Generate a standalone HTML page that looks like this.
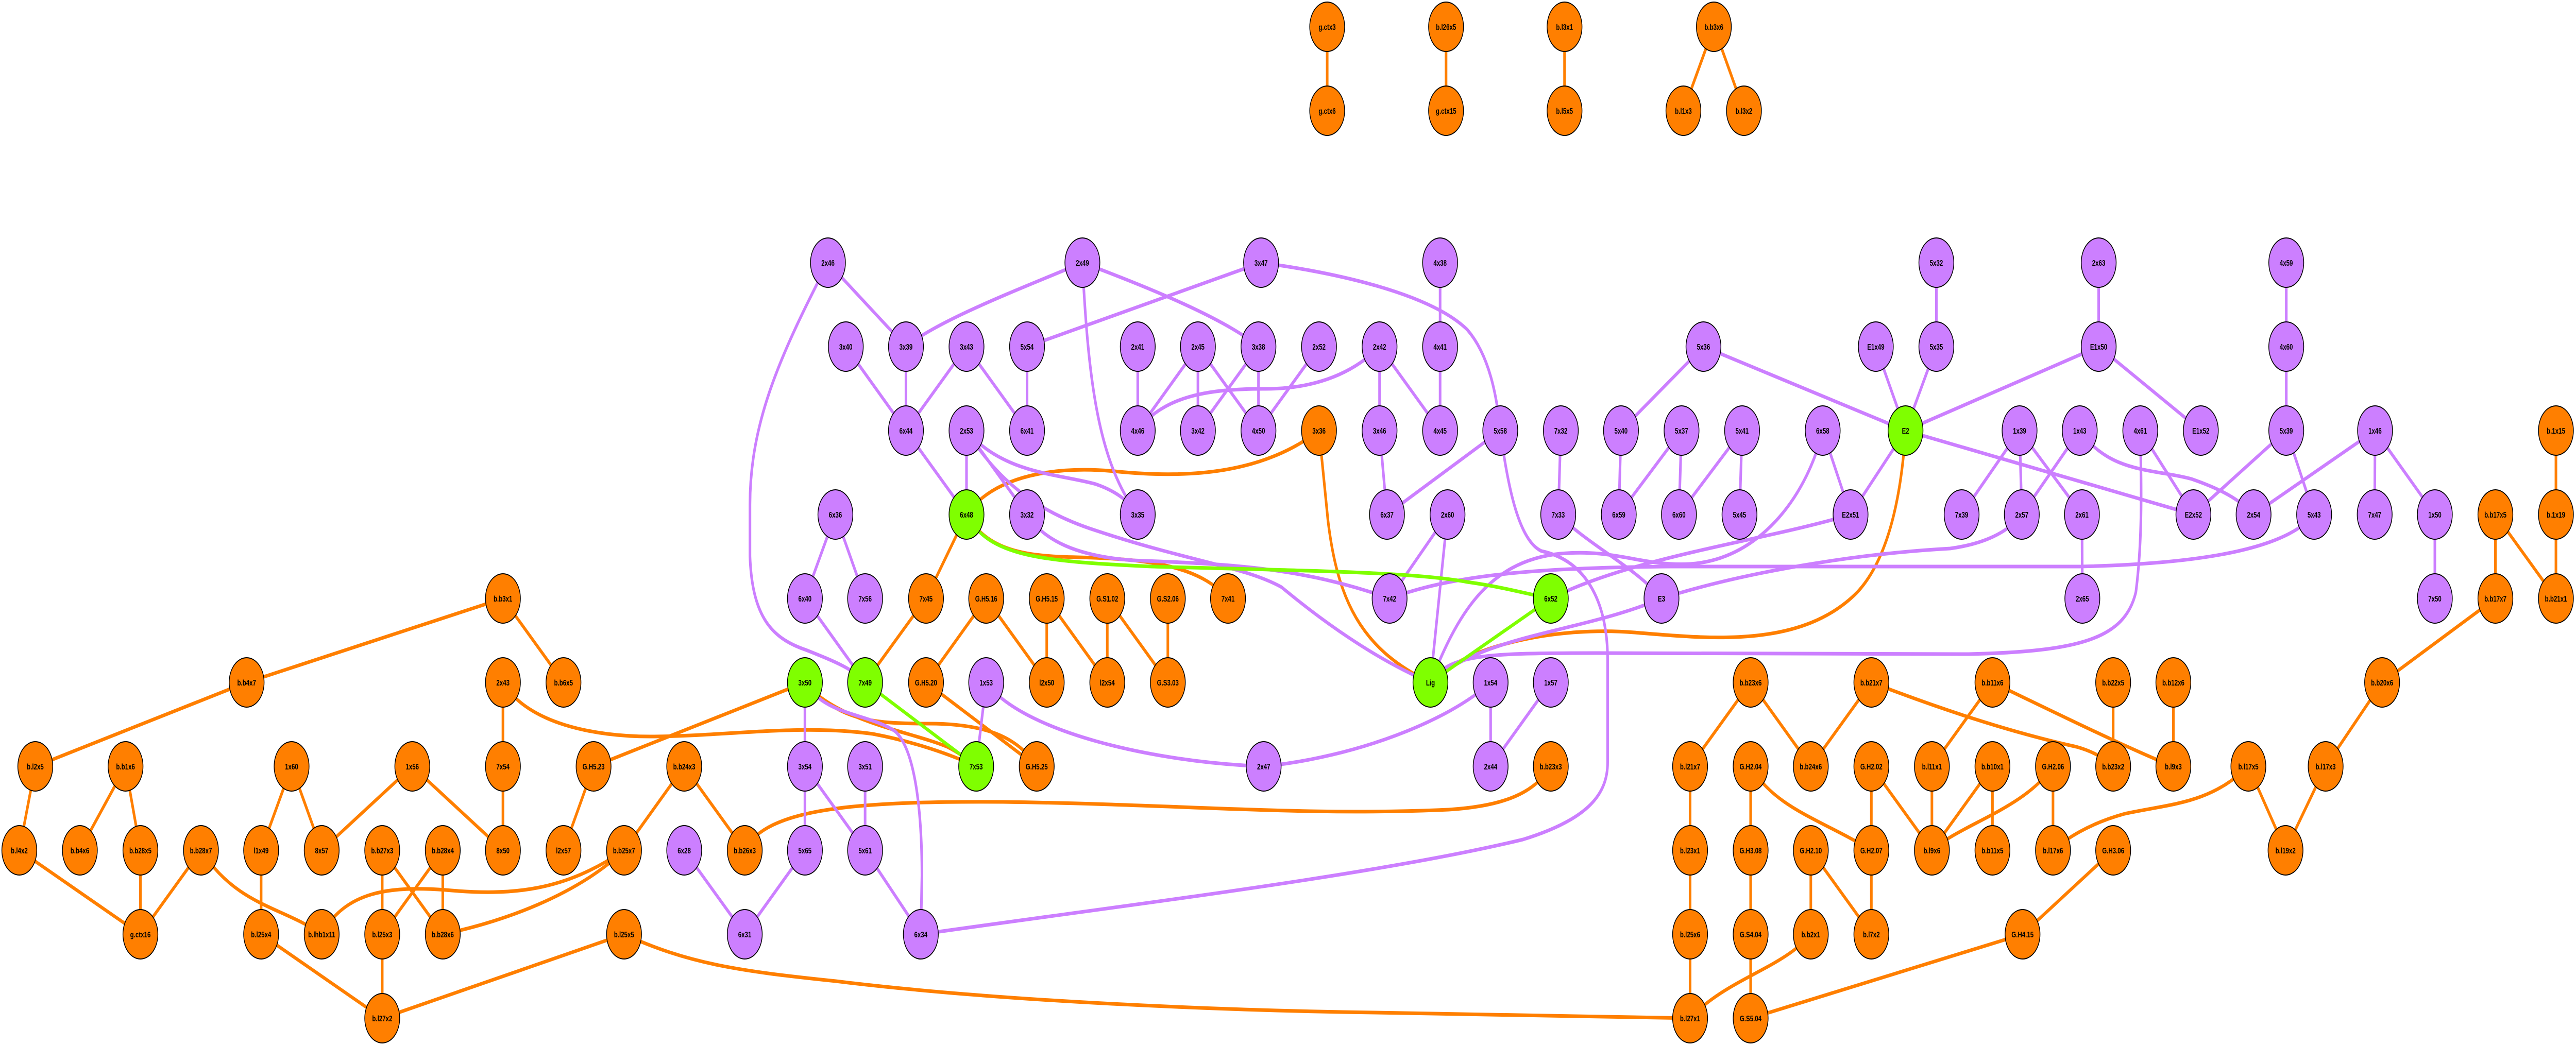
<!DOCTYPE html>
<html><head><meta charset="utf-8"><style>
html,body{margin:0;padding:0;background:#fff;overflow:hidden;width:100%;height:100%;}
svg{display:block;width:100vw;height:100vh;}
.o{fill:#ff7f00;stroke:#000;stroke-width:2}
.p{fill:#cc7fff;stroke:#000;stroke-width:2}
.g{fill:#7fff00;stroke:#000;stroke-width:2}
text{font-family:"Liberation Sans",sans-serif;font-weight:bold;font-size:16px;text-anchor:middle;fill:#000}
.eo{stroke:#ff7f00;stroke-width:7;fill:none}
.ep{stroke:#cc7fff;stroke-width:7;fill:none}
.eg{stroke:#7fff00;stroke-width:7;fill:none}
</style></head><body>
<svg viewBox="0 0 6935 2029" preserveAspectRatio="none" xmlns="http://www.w3.org/2000/svg">
<rect width="6935" height="2029" fill="#fff"/>
<g class="eo">
<line x1="3573" y1="52" x2="3573" y2="215"/>
<line x1="3893" y1="52" x2="3893" y2="215"/>
<line x1="4212" y1="52" x2="4212" y2="215"/>
<line x1="4614" y1="52" x2="4532" y2="215"/>
<line x1="4614" y1="52" x2="4695" y2="215"/>
<line x1="1354" y1="1162" x2="664" y2="1325"/>
<line x1="1354" y1="1162" x2="1517" y2="1325"/>
<line x1="664" y1="1325" x2="95" y2="1488"/>
<line x1="95" y1="1488" x2="52" y2="1651"/>
<line x1="338" y1="1488" x2="215" y2="1651"/>
<line x1="338" y1="1488" x2="378" y2="1651"/>
<line x1="378" y1="1651" x2="378" y2="1814"/>
<line x1="52" y1="1651" x2="378" y2="1814"/>
<line x1="541" y1="1651" x2="378" y2="1814"/>
<line x1="785" y1="1488" x2="703" y2="1651"/>
<line x1="785" y1="1488" x2="866" y2="1651"/>
<line x1="1110" y1="1488" x2="866" y2="1651"/>
<line x1="1110" y1="1488" x2="1354" y2="1651"/>
<line x1="1354" y1="1488" x2="1354" y2="1651"/>
<line x1="1354" y1="1325" x2="1354" y2="1488"/>
<line x1="1598" y1="1488" x2="2167" y2="1325"/>
<line x1="1598" y1="1488" x2="1517" y2="1651"/>
<line x1="1842" y1="1488" x2="1680" y2="1651"/>
<path d="M1680,1651 C1550,1740 1350,1790 1192,1814"/>
<line x1="1029" y1="1651" x2="1029" y2="1814"/>
<line x1="1029" y1="1651" x2="1192" y2="1814"/>
<line x1="1192" y1="1651" x2="1029" y2="1814"/>
<line x1="1192" y1="1651" x2="1192" y2="1814"/>
<line x1="703" y1="1651" x2="703" y2="1814"/>
<line x1="703" y1="1814" x2="1029" y2="1977"/>
<line x1="1029" y1="1814" x2="1029" y2="1977"/>
<line x1="1029" y1="1977" x2="1680" y2="1814"/>
<line x1="2602" y1="999" x2="2493" y2="1162"/>
<line x1="2493" y1="1162" x2="2329" y2="1325"/>
<line x1="2655" y1="1162" x2="2493" y2="1325"/>
<line x1="2655" y1="1162" x2="2818" y2="1325"/>
<line x1="2818" y1="1162" x2="2818" y2="1325"/>
<line x1="2818" y1="1162" x2="2981" y2="1325"/>
<line x1="2981" y1="1162" x2="2981" y2="1325"/>
<line x1="2981" y1="1162" x2="3144" y2="1325"/>
<line x1="3144" y1="1162" x2="3144" y2="1325"/>
<line x1="2493" y1="1325" x2="2791" y2="1488"/>
<line x1="1842" y1="1488" x2="2005" y2="1651"/>
<line x1="4713" y1="1325" x2="4550" y2="1488"/>
<line x1="4713" y1="1325" x2="4875" y2="1488"/>
<line x1="5038" y1="1325" x2="4875" y2="1488"/>
<line x1="4550" y1="1488" x2="4550" y2="1651"/>
<line x1="4550" y1="1651" x2="4550" y2="1814"/>
<line x1="4550" y1="1814" x2="4550" y2="1977"/>
<line x1="4713" y1="1488" x2="4713" y2="1651"/>
<line x1="4713" y1="1651" x2="4713" y2="1814"/>
<line x1="4713" y1="1814" x2="4713" y2="1977"/>
<line x1="5038" y1="1488" x2="5038" y2="1651"/>
<line x1="5038" y1="1488" x2="5201" y2="1651"/>
<line x1="5201" y1="1488" x2="5201" y2="1651"/>
<line x1="4875" y1="1651" x2="4875" y2="1814"/>
<line x1="4875" y1="1651" x2="5038" y2="1814"/>
<line x1="5038" y1="1651" x2="5038" y2="1814"/>
<path d="M4875,1814 C4800,1880 4650,1900 4550,1977"/>
<line x1="4713" y1="1977" x2="5445" y2="1814"/>
<line x1="5689" y1="1651" x2="5445" y2="1814"/>
<line x1="5364" y1="1325" x2="5201" y2="1488"/>
<line x1="5851" y1="1325" x2="5851" y2="1488"/>
<line x1="5689" y1="1325" x2="5689" y2="1488"/>
<line x1="5364" y1="1488" x2="5201" y2="1651"/>
<line x1="5364" y1="1488" x2="5364" y2="1651"/>
<line x1="5527" y1="1488" x2="5527" y2="1651"/>
<line x1="6053" y1="1488" x2="6153" y2="1651"/>
<line x1="6261" y1="1488" x2="6153" y2="1651"/>
<line x1="6413" y1="1325" x2="6261" y2="1488"/>
<line x1="6718" y1="1162" x2="6413" y2="1325"/>
<line x1="6718" y1="999" x2="6718" y2="1162"/>
<line x1="6718" y1="999" x2="6881" y2="1162"/>
<line x1="6881" y1="999" x2="6881" y2="1162"/>
<line x1="6881" y1="836" x2="6881" y2="999"/>
<path d="M541,1651 C640,1760 760,1760 866,1814"/>
<path d="M866,1814 C930,1730 1050,1720 1200,1728 C1380,1740 1520,1730 1680,1651"/>
<path d="M1354,1325 C1420,1405 1600,1430 1750,1430 C1950,1430 2150,1405 2350,1425 C2460,1440 2560,1465 2628,1488"/>
<path d="M1680,1814 C1850,1870 1980,1885 2250,1905 C2700,1945 3300,1962 3700,1966 L4550,1977"/>
<path d="M2602,999 C2660,1070 2760,1080 2900,1082 C3100,1085 3230,1100 3306,1162"/>
<path d="M2602,999 C2680,920 2850,905 3000,915 C3200,930 3400,920 3551,836"/>
<path d="M2167,1325 C2250,1400 2450,1420 2550,1450 C2590,1465 2610,1478 2628,1488"/>
<path d="M2167,1325 C2260,1400 2350,1405 2500,1405 C2650,1405 2740,1430 2791,1488"/>
<path d="M2005,1651 C2060,1570 2300,1555 2700,1557 C3200,1562 3500,1585 3900,1572 C4050,1565 4130,1540 4175,1488"/>
<path d="M3551,836 L3575,1010 C3600,1160 3660,1260 3851,1325"/>
<path d="M5130,836 C5120,950 5090,1080 5000,1150 C4850,1260 4600,1240 4400,1228 C4200,1216 3950,1250 3851,1325"/>
<path d="M5038,1325 C5200,1370 5400,1420 5590,1450 C5640,1460 5670,1475 5689,1488"/>
<path d="M4713,1488 C4780,1570 4900,1590 5038,1651"/>
<path d="M5364,1325 C5550,1390 5750,1460 5851,1488"/>
<path d="M5527,1488 C5450,1570 5280,1600 5201,1651"/>
<path d="M6053,1488 C5950,1560 5850,1560 5720,1580 C5620,1600 5560,1630 5527,1651"/>
</g>
<g class="ep">
<line x1="2229" y1="510" x2="2439" y2="673"/>
<line x1="3395" y1="510" x2="2765" y2="673"/>
<line x1="2277" y1="673" x2="2439" y2="836"/>
<line x1="2439" y1="673" x2="2439" y2="836"/>
<line x1="2602" y1="673" x2="2439" y2="836"/>
<line x1="2602" y1="673" x2="2765" y2="836"/>
<line x1="2765" y1="673" x2="2765" y2="836"/>
<line x1="3063" y1="673" x2="3063" y2="836"/>
<line x1="3225" y1="673" x2="3063" y2="836"/>
<line x1="3225" y1="673" x2="3225" y2="836"/>
<line x1="3225" y1="673" x2="3388" y2="836"/>
<line x1="3388" y1="673" x2="3225" y2="836"/>
<line x1="3388" y1="673" x2="3388" y2="836"/>
<line x1="3551" y1="673" x2="3388" y2="836"/>
<line x1="2439" y1="836" x2="2602" y2="999"/>
<line x1="2602" y1="836" x2="2602" y2="999"/>
<line x1="2602" y1="836" x2="2765" y2="999"/>
<line x1="2249" y1="999" x2="2167" y2="1162"/>
<line x1="2249" y1="999" x2="2329" y2="1162"/>
<line x1="2167" y1="1162" x2="2329" y2="1325"/>
<line x1="2167" y1="1325" x2="2167" y2="1488"/>
<line x1="2655" y1="1325" x2="2628" y2="1488"/>
<line x1="2167" y1="1488" x2="2167" y2="1651"/>
<line x1="2167" y1="1488" x2="2329" y2="1651"/>
<line x1="2329" y1="1488" x2="2329" y2="1651"/>
<line x1="2329" y1="1651" x2="2479" y2="1814"/>
<line x1="1842" y1="1651" x2="2005" y2="1814"/>
<line x1="2167" y1="1651" x2="2005" y2="1814"/>
<line x1="3877" y1="510" x2="3877" y2="673"/>
<line x1="3877" y1="673" x2="3877" y2="836"/>
<line x1="3714" y1="673" x2="3714" y2="836"/>
<line x1="3714" y1="673" x2="3877" y2="836"/>
<line x1="3714" y1="836" x2="3734" y2="999"/>
<line x1="4039" y1="836" x2="3734" y2="999"/>
<line x1="4202" y1="836" x2="4195" y2="999"/>
<line x1="4364" y1="836" x2="4358" y2="999"/>
<line x1="4527" y1="836" x2="4358" y2="999"/>
<line x1="4527" y1="836" x2="4520" y2="999"/>
<line x1="4690" y1="836" x2="4520" y2="999"/>
<line x1="4690" y1="836" x2="4683" y2="999"/>
<line x1="4586" y1="673" x2="4364" y2="836"/>
<line x1="4586" y1="673" x2="5130" y2="836"/>
<line x1="5050" y1="673" x2="5130" y2="836"/>
<line x1="5213" y1="673" x2="5130" y2="836"/>
<line x1="5213" y1="510" x2="5213" y2="673"/>
<line x1="4907" y1="836" x2="4982" y2="999"/>
<line x1="5130" y1="836" x2="4982" y2="999"/>
<line x1="3897" y1="999" x2="3741" y2="1162"/>
<line x1="3897" y1="999" x2="3851" y2="1325"/>
<path d="M4195,999 C4280,1060 4400,1100 4473,1162"/>
<line x1="4013" y1="1325" x2="4013" y2="1488"/>
<line x1="4175" y1="1325" x2="4013" y2="1488"/>
<line x1="5650" y1="510" x2="5650" y2="673"/>
<line x1="5650" y1="673" x2="5130" y2="836"/>
<line x1="5650" y1="673" x2="5925" y2="836"/>
<line x1="6155" y1="510" x2="6155" y2="673"/>
<line x1="6155" y1="673" x2="6155" y2="836"/>
<line x1="5130" y1="836" x2="5905" y2="999"/>
<line x1="5437" y1="836" x2="5281" y2="999"/>
<line x1="5437" y1="836" x2="5443" y2="999"/>
<line x1="5437" y1="836" x2="5605" y2="999"/>
<line x1="5599" y1="836" x2="5443" y2="999"/>
<line x1="5762" y1="836" x2="5905" y2="999"/>
<line x1="6155" y1="836" x2="5905" y2="999"/>
<line x1="6155" y1="836" x2="6230" y2="999"/>
<line x1="6394" y1="836" x2="6067" y2="999"/>
<line x1="6394" y1="836" x2="6393" y2="999"/>
<line x1="6394" y1="836" x2="6555" y2="999"/>
<line x1="5605" y1="999" x2="5606" y2="1162"/>
<line x1="6555" y1="999" x2="6555" y2="1162"/>
<path d="M2229,510 C2100,690 2019,820 2019,980 L2019,1080 C2025,1200 2080,1240 2170,1262 C2250,1285 2300,1300 2329,1325"/>
<path d="M2914,510 C2750,560 2530,620 2439,673"/>
<path d="M2914,510 C3100,560 3300,620 3388,673"/>
<path d="M2914,510 C2930,750 2960,900 3063,999"/>
<path d="M3395,510 C3600,530 3850,570 3950,640 C4010,690 4030,770 4039,836"/>
<path d="M3063,836 C3130,770 3250,755 3400,755 C3550,756 3650,720 3714,673"/>
<path d="M2602,836 C2700,920 2850,920 2950,940 C3010,955 3040,975 3063,999"/>
<path d="M2602,836 C2700,950 2820,1000 2950,1030 C3200,1090 3350,1100 3450,1140 C3550,1200 3700,1280 3851,1325"/>
<path d="M2765,999 C2810,1050 2900,1080 3050,1088 C3300,1095 3500,1100 3741,1162"/>
<path d="M2167,1325 C2220,1390 2340,1385 2410,1420 C2470,1460 2482,1600 2482,1700 L2479,1814"/>
<path d="M2655,1325 C2750,1420 3100,1480 3402,1488"/>
<path d="M3402,1488 C3650,1470 3900,1400 4013,1325"/>
<path d="M2479,1814 C3000,1760 3700,1700 4100,1630 C4280,1590 4328,1540 4328,1480 L4328,1280 C4328,1180 4280,1090 4150,1070 C4090,1050 4060,950 4039,836"/>
<path d="M3851,1325 C3920,1200 4000,1090 4200,1075 C4350,1065 4420,1100 4550,1095 C4750,1085 4870,950 4907,836"/>
<path d="M4473,1162 C4250,1230 4000,1230 3851,1325"/>
<path d="M4175,1162 C4400,1080 4750,1050 4982,999"/>
<path d="M3741,1162 C3900,1120 4100,1102 4500,1100 L5600,1100 C5900,1095 6150,1070 6230,999"/>
<path d="M4473,1162 C4700,1110 5000,1075 5250,1065 C5350,1055 5410,1030 5443,999"/>
<path d="M3851,1325 C3900,1270 4000,1268 4300,1268 L5300,1270 C5600,1265 5720,1240 5750,1150 C5768,1050 5765,950 5762,836"/>
<path d="M5599,836 C5680,920 5800,910 5900,930 C5980,950 6030,970 6067,999"/>
</g>
<g class="eg">
<line x1="2329" y1="1325" x2="2628" y2="1488"/>
<line x1="4175" y1="1162" x2="3851" y2="1325"/>
<path d="M2602,999 C2660,1080 2800,1090 3100,1100 C3500,1108 3800,1110 3950,1130 C4050,1140 4120,1155 4175,1162"/>
</g>
<g>
<ellipse class="o" cx="3573" cy="52" rx="47" ry="48"/><text x="3573" y="58">g.ctx3</text>
<ellipse class="o" cx="3573" cy="215" rx="47" ry="48"/><text x="3573" y="221">g.ctx6</text>
<ellipse class="o" cx="3893" cy="52" rx="47" ry="48"/><text x="3893" y="58">b.l26x5</text>
<ellipse class="o" cx="3893" cy="215" rx="47" ry="48"/><text x="3893" y="221">g.ctx15</text>
<ellipse class="o" cx="4212" cy="52" rx="47" ry="48"/><text x="4212" y="58">b.l3x1</text>
<ellipse class="o" cx="4212" cy="215" rx="47" ry="48"/><text x="4212" y="221">b.l5x5</text>
<ellipse class="o" cx="4614" cy="52" rx="47" ry="48"/><text x="4614" y="58">b.b3x6</text>
<ellipse class="o" cx="4532" cy="215" rx="47" ry="48"/><text x="4532" y="221">b.l1x3</text>
<ellipse class="o" cx="4695" cy="215" rx="47" ry="48"/><text x="4695" y="221">b.l3x2</text>

<ellipse class="p" cx="2229" cy="510" rx="47" ry="48"/><text x="2229" y="516">2x46</text>
<ellipse class="p" cx="2914" cy="510" rx="47" ry="48"/><text x="2914" y="516">2x49</text>
<ellipse class="p" cx="3395" cy="510" rx="47" ry="48"/><text x="3395" y="516">3x47</text>
<ellipse class="p" cx="3877" cy="510" rx="47" ry="48"/><text x="3877" y="516">4x38</text>
<ellipse class="p" cx="5213" cy="510" rx="47" ry="48"/><text x="5213" y="516">5x32</text>
<ellipse class="p" cx="5650" cy="510" rx="47" ry="48"/><text x="5650" y="516">2x63</text>
<ellipse class="p" cx="6155" cy="510" rx="47" ry="48"/><text x="6155" y="516">4x59</text>

<ellipse class="p" cx="2277" cy="673" rx="47" ry="48"/><text x="2277" y="679">3x40</text>
<ellipse class="p" cx="2439" cy="673" rx="47" ry="48"/><text x="2439" y="679">3x39</text>
<ellipse class="p" cx="2602" cy="673" rx="47" ry="48"/><text x="2602" y="679">3x43</text>
<ellipse class="p" cx="2765" cy="673" rx="47" ry="48"/><text x="2765" y="679">5x54</text>
<ellipse class="p" cx="3063" cy="673" rx="47" ry="48"/><text x="3063" y="679">2x41</text>
<ellipse class="p" cx="3225" cy="673" rx="47" ry="48"/><text x="3225" y="679">2x45</text>
<ellipse class="p" cx="3388" cy="673" rx="47" ry="48"/><text x="3388" y="679">3x38</text>
<ellipse class="p" cx="3551" cy="673" rx="47" ry="48"/><text x="3551" y="679">2x52</text>
<ellipse class="p" cx="3714" cy="673" rx="47" ry="48"/><text x="3714" y="679">2x42</text>
<ellipse class="p" cx="3877" cy="673" rx="47" ry="48"/><text x="3877" y="679">4x41</text>
<ellipse class="p" cx="4586" cy="673" rx="47" ry="48"/><text x="4586" y="679">5x36</text>
<ellipse class="p" cx="5050" cy="673" rx="47" ry="48"/><text x="5050" y="679">E1x49</text>
<ellipse class="p" cx="5213" cy="673" rx="47" ry="48"/><text x="5213" y="679">5x35</text>
<ellipse class="p" cx="5650" cy="673" rx="47" ry="48"/><text x="5650" y="679">E1x50</text>
<ellipse class="p" cx="6155" cy="673" rx="47" ry="48"/><text x="6155" y="679">4x60</text>

<ellipse class="p" cx="2439" cy="836" rx="47" ry="48"/><text x="2439" y="842">6x44</text>
<ellipse class="p" cx="2602" cy="836" rx="47" ry="48"/><text x="2602" y="842">2x53</text>
<ellipse class="p" cx="2765" cy="836" rx="47" ry="48"/><text x="2765" y="842">6x41</text>
<ellipse class="p" cx="3063" cy="836" rx="47" ry="48"/><text x="3063" y="842">4x46</text>
<ellipse class="p" cx="3225" cy="836" rx="47" ry="48"/><text x="3225" y="842">3x42</text>
<ellipse class="p" cx="3388" cy="836" rx="47" ry="48"/><text x="3388" y="842">4x50</text>
<ellipse class="o" cx="3551" cy="836" rx="47" ry="48"/><text x="3551" y="842">3x36</text>
<ellipse class="p" cx="3714" cy="836" rx="47" ry="48"/><text x="3714" y="842">3x46</text>
<ellipse class="p" cx="3877" cy="836" rx="47" ry="48"/><text x="3877" y="842">4x45</text>
<ellipse class="p" cx="4039" cy="836" rx="47" ry="48"/><text x="4039" y="842">5x58</text>
<ellipse class="p" cx="4202" cy="836" rx="47" ry="48"/><text x="4202" y="842">7x32</text>
<ellipse class="p" cx="4364" cy="836" rx="47" ry="48"/><text x="4364" y="842">5x40</text>
<ellipse class="p" cx="4527" cy="836" rx="47" ry="48"/><text x="4527" y="842">5x37</text>
<ellipse class="p" cx="4690" cy="836" rx="47" ry="48"/><text x="4690" y="842">5x41</text>
<ellipse class="p" cx="4907" cy="836" rx="47" ry="48"/><text x="4907" y="842">6x58</text>
<ellipse class="g" cx="5130" cy="836" rx="47" ry="48"/><text x="5130" y="842">E2</text>
<ellipse class="p" cx="5437" cy="836" rx="47" ry="48"/><text x="5437" y="842">1x39</text>
<ellipse class="p" cx="5599" cy="836" rx="47" ry="48"/><text x="5599" y="842">1x43</text>
<ellipse class="p" cx="5762" cy="836" rx="47" ry="48"/><text x="5762" y="842">4x61</text>
<ellipse class="p" cx="5925" cy="836" rx="47" ry="48"/><text x="5925" y="842">E1x52</text>
<ellipse class="p" cx="6155" cy="836" rx="47" ry="48"/><text x="6155" y="842">5x39</text>
<ellipse class="p" cx="6394" cy="836" rx="47" ry="48"/><text x="6394" y="842">1x46</text>
<ellipse class="o" cx="6881" cy="836" rx="47" ry="48"/><text x="6881" y="842">b.1x15</text>

<ellipse class="p" cx="2249" cy="999" rx="47" ry="48"/><text x="2249" y="1005">6x36</text>
<ellipse class="g" cx="2602" cy="999" rx="47" ry="48"/><text x="2602" y="1005">6x48</text>
<ellipse class="p" cx="2765" cy="999" rx="47" ry="48"/><text x="2765" y="1005">3x32</text>
<ellipse class="p" cx="3063" cy="999" rx="47" ry="48"/><text x="3063" y="1005">3x35</text>
<ellipse class="p" cx="3734" cy="999" rx="47" ry="48"/><text x="3734" y="1005">6x37</text>
<ellipse class="p" cx="3897" cy="999" rx="47" ry="48"/><text x="3897" y="1005">2x60</text>
<ellipse class="p" cx="4195" cy="999" rx="47" ry="48"/><text x="4195" y="1005">7x33</text>
<ellipse class="p" cx="4358" cy="999" rx="47" ry="48"/><text x="4358" y="1005">6x59</text>
<ellipse class="p" cx="4520" cy="999" rx="47" ry="48"/><text x="4520" y="1005">6x60</text>
<ellipse class="p" cx="4683" cy="999" rx="47" ry="48"/><text x="4683" y="1005">5x45</text>
<ellipse class="p" cx="4982" cy="999" rx="47" ry="48"/><text x="4982" y="1005">E2x51</text>
<ellipse class="p" cx="5281" cy="999" rx="47" ry="48"/><text x="5281" y="1005">7x39</text>
<ellipse class="p" cx="5443" cy="999" rx="47" ry="48"/><text x="5443" y="1005">2x57</text>
<ellipse class="p" cx="5605" cy="999" rx="47" ry="48"/><text x="5605" y="1005">2x61</text>
<ellipse class="p" cx="5905" cy="999" rx="47" ry="48"/><text x="5905" y="1005">E2x52</text>
<ellipse class="p" cx="6067" cy="999" rx="47" ry="48"/><text x="6067" y="1005">2x54</text>
<ellipse class="p" cx="6230" cy="999" rx="47" ry="48"/><text x="6230" y="1005">5x43</text>
<ellipse class="p" cx="6393" cy="999" rx="47" ry="48"/><text x="6393" y="1005">7x47</text>
<ellipse class="p" cx="6555" cy="999" rx="47" ry="48"/><text x="6555" y="1005">1x50</text>
<ellipse class="o" cx="6718" cy="999" rx="47" ry="48"/><text x="6718" y="1005">b.b17x5</text>
<ellipse class="o" cx="6881" cy="999" rx="47" ry="48"/><text x="6881" y="1005">b.1x19</text>

<ellipse class="o" cx="1354" cy="1162" rx="47" ry="48"/><text x="1354" y="1168">b.b3x1</text>
<ellipse class="p" cx="2167" cy="1162" rx="47" ry="48"/><text x="2167" y="1168">6x40</text>
<ellipse class="p" cx="2329" cy="1162" rx="47" ry="48"/><text x="2329" y="1168">7x56</text>
<ellipse class="o" cx="2493" cy="1162" rx="47" ry="48"/><text x="2493" y="1168">7x45</text>
<ellipse class="o" cx="2655" cy="1162" rx="47" ry="48"/><text x="2655" y="1168">G.H5.16</text>
<ellipse class="o" cx="2818" cy="1162" rx="47" ry="48"/><text x="2818" y="1168">G.H5.15</text>
<ellipse class="o" cx="2981" cy="1162" rx="47" ry="48"/><text x="2981" y="1168">G.S1.02</text>
<ellipse class="o" cx="3144" cy="1162" rx="47" ry="48"/><text x="3144" y="1168">G.S2.06</text>
<ellipse class="o" cx="3306" cy="1162" rx="47" ry="48"/><text x="3306" y="1168">7x41</text>
<ellipse class="p" cx="3741" cy="1162" rx="47" ry="48"/><text x="3741" y="1168">7x42</text>
<ellipse class="g" cx="4175" cy="1162" rx="47" ry="48"/><text x="4175" y="1168">6x52</text>
<ellipse class="p" cx="4473" cy="1162" rx="47" ry="48"/><text x="4473" y="1168">E3</text>
<ellipse class="p" cx="5606" cy="1162" rx="47" ry="48"/><text x="5606" y="1168">2x65</text>
<ellipse class="p" cx="6555" cy="1162" rx="47" ry="48"/><text x="6555" y="1168">7x50</text>
<ellipse class="o" cx="6718" cy="1162" rx="47" ry="48"/><text x="6718" y="1168">b.b17x7</text>
<ellipse class="o" cx="6881" cy="1162" rx="47" ry="48"/><text x="6881" y="1168">b.b21x1</text>

<ellipse class="o" cx="664" cy="1325" rx="47" ry="48"/><text x="664" y="1331">b.b4x7</text>
<ellipse class="o" cx="1354" cy="1325" rx="47" ry="48"/><text x="1354" y="1331">2x43</text>
<ellipse class="o" cx="1517" cy="1325" rx="47" ry="48"/><text x="1517" y="1331">b.b6x5</text>
<ellipse class="g" cx="2167" cy="1325" rx="47" ry="48"/><text x="2167" y="1331">3x50</text>
<ellipse class="g" cx="2329" cy="1325" rx="47" ry="48"/><text x="2329" y="1331">7x49</text>
<ellipse class="o" cx="2493" cy="1325" rx="47" ry="48"/><text x="2493" y="1331">G.H5.20</text>
<ellipse class="p" cx="2655" cy="1325" rx="47" ry="48"/><text x="2655" y="1331">1x53</text>
<ellipse class="o" cx="2818" cy="1325" rx="47" ry="48"/><text x="2818" y="1331">l2x50</text>
<ellipse class="o" cx="2981" cy="1325" rx="47" ry="48"/><text x="2981" y="1331">l2x54</text>
<ellipse class="o" cx="3144" cy="1325" rx="47" ry="48"/><text x="3144" y="1331">G.S3.03</text>
<ellipse class="g" cx="3851" cy="1325" rx="47" ry="48"/><text x="3851" y="1331">Lig</text>
<ellipse class="p" cx="4013" cy="1325" rx="47" ry="48"/><text x="4013" y="1331">1x54</text>
<ellipse class="p" cx="4175" cy="1325" rx="47" ry="48"/><text x="4175" y="1331">1x57</text>
<ellipse class="o" cx="4713" cy="1325" rx="47" ry="48"/><text x="4713" y="1331">b.b23x6</text>
<ellipse class="o" cx="5038" cy="1325" rx="47" ry="48"/><text x="5038" y="1331">b.b21x7</text>
<ellipse class="o" cx="5364" cy="1325" rx="47" ry="48"/><text x="5364" y="1331">b.b11x6</text>
<ellipse class="o" cx="5689" cy="1325" rx="47" ry="48"/><text x="5689" y="1331">b.b22x5</text>
<ellipse class="o" cx="5851" cy="1325" rx="47" ry="48"/><text x="5851" y="1331">b.b12x6</text>
<ellipse class="o" cx="6413" cy="1325" rx="47" ry="48"/><text x="6413" y="1331">b.b20x6</text>

<ellipse class="o" cx="95" cy="1488" rx="47" ry="48"/><text x="95" y="1494">b.l2x5</text>
<ellipse class="o" cx="338" cy="1488" rx="47" ry="48"/><text x="338" y="1494">b.b1x6</text>
<ellipse class="o" cx="785" cy="1488" rx="47" ry="48"/><text x="785" y="1494">1x60</text>
<ellipse class="o" cx="1110" cy="1488" rx="47" ry="48"/><text x="1110" y="1494">1x56</text>
<ellipse class="o" cx="1354" cy="1488" rx="47" ry="48"/><text x="1354" y="1494">7x54</text>
<ellipse class="o" cx="1598" cy="1488" rx="47" ry="48"/><text x="1598" y="1494">G.H5.23</text>
<ellipse class="o" cx="1842" cy="1488" rx="47" ry="48"/><text x="1842" y="1494">b.b24x3</text>
<ellipse class="p" cx="2167" cy="1488" rx="47" ry="48"/><text x="2167" y="1494">3x54</text>
<ellipse class="p" cx="2329" cy="1488" rx="47" ry="48"/><text x="2329" y="1494">3x51</text>
<ellipse class="g" cx="2628" cy="1488" rx="47" ry="48"/><text x="2628" y="1494">7x53</text>
<ellipse class="o" cx="2791" cy="1488" rx="47" ry="48"/><text x="2791" y="1494">G.H5.25</text>
<ellipse class="p" cx="3402" cy="1488" rx="47" ry="48"/><text x="3402" y="1494">2x47</text>
<ellipse class="p" cx="4013" cy="1488" rx="47" ry="48"/><text x="4013" y="1494">2x44</text>
<ellipse class="o" cx="4175" cy="1488" rx="47" ry="48"/><text x="4175" y="1494">b.b23x3</text>
<ellipse class="o" cx="4550" cy="1488" rx="47" ry="48"/><text x="4550" y="1494">b.l21x7</text>
<ellipse class="o" cx="4713" cy="1488" rx="47" ry="48"/><text x="4713" y="1494">G.H2.04</text>
<ellipse class="o" cx="4875" cy="1488" rx="47" ry="48"/><text x="4875" y="1494">b.b24x6</text>
<ellipse class="o" cx="5038" cy="1488" rx="47" ry="48"/><text x="5038" y="1494">G.H2.02</text>
<ellipse class="o" cx="5201" cy="1488" rx="47" ry="48"/><text x="5201" y="1494">b.l11x1</text>
<ellipse class="o" cx="5364" cy="1488" rx="47" ry="48"/><text x="5364" y="1494">b.b10x1</text>
<ellipse class="o" cx="5527" cy="1488" rx="47" ry="48"/><text x="5527" y="1494">G.H2.06</text>
<ellipse class="o" cx="5689" cy="1488" rx="47" ry="48"/><text x="5689" y="1494">b.b23x2</text>
<ellipse class="o" cx="5851" cy="1488" rx="47" ry="48"/><text x="5851" y="1494">b.l9x3</text>
<ellipse class="o" cx="6053" cy="1488" rx="47" ry="48"/><text x="6053" y="1494">b.l17x5</text>
<ellipse class="o" cx="6261" cy="1488" rx="47" ry="48"/><text x="6261" y="1494">b.l17x3</text>

<ellipse class="o" cx="52" cy="1651" rx="47" ry="48"/><text x="52" y="1657">b.l4x2</text>
<ellipse class="o" cx="215" cy="1651" rx="47" ry="48"/><text x="215" y="1657">b.b4x6</text>
<ellipse class="o" cx="378" cy="1651" rx="47" ry="48"/><text x="378" y="1657">b.b28x5</text>
<ellipse class="o" cx="541" cy="1651" rx="47" ry="48"/><text x="541" y="1657">b.b28x7</text>
<ellipse class="o" cx="703" cy="1651" rx="47" ry="48"/><text x="703" y="1657">l1x49</text>
<ellipse class="o" cx="866" cy="1651" rx="47" ry="48"/><text x="866" y="1657">8x57</text>
<ellipse class="o" cx="1029" cy="1651" rx="47" ry="48"/><text x="1029" y="1657">b.b27x3</text>
<ellipse class="o" cx="1192" cy="1651" rx="47" ry="48"/><text x="1192" y="1657">b.b28x4</text>
<ellipse class="o" cx="1354" cy="1651" rx="47" ry="48"/><text x="1354" y="1657">8x50</text>
<ellipse class="o" cx="1517" cy="1651" rx="47" ry="48"/><text x="1517" y="1657">l2x57</text>
<ellipse class="o" cx="1680" cy="1651" rx="47" ry="48"/><text x="1680" y="1657">b.b25x7</text>
<ellipse class="p" cx="1842" cy="1651" rx="47" ry="48"/><text x="1842" y="1657">6x28</text>
<ellipse class="o" cx="2005" cy="1651" rx="47" ry="48"/><text x="2005" y="1657">b.b26x3</text>
<ellipse class="p" cx="2167" cy="1651" rx="47" ry="48"/><text x="2167" y="1657">5x65</text>
<ellipse class="p" cx="2329" cy="1651" rx="47" ry="48"/><text x="2329" y="1657">5x61</text>
<ellipse class="o" cx="4550" cy="1651" rx="47" ry="48"/><text x="4550" y="1657">b.l23x1</text>
<ellipse class="o" cx="4713" cy="1651" rx="47" ry="48"/><text x="4713" y="1657">G.H3.08</text>
<ellipse class="o" cx="4875" cy="1651" rx="47" ry="48"/><text x="4875" y="1657">G.H2.10</text>
<ellipse class="o" cx="5038" cy="1651" rx="47" ry="48"/><text x="5038" y="1657">G.H2.07</text>
<ellipse class="o" cx="5201" cy="1651" rx="47" ry="48"/><text x="5201" y="1657">b.l9x6</text>
<ellipse class="o" cx="5364" cy="1651" rx="47" ry="48"/><text x="5364" y="1657">b.b11x5</text>
<ellipse class="o" cx="5527" cy="1651" rx="47" ry="48"/><text x="5527" y="1657">b.l17x6</text>
<ellipse class="o" cx="5689" cy="1651" rx="47" ry="48"/><text x="5689" y="1657">G.H3.06</text>
<ellipse class="o" cx="6153" cy="1651" rx="47" ry="48"/><text x="6153" y="1657">b.l19x2</text>

<ellipse class="o" cx="378" cy="1814" rx="47" ry="48"/><text x="378" y="1820">g.ctx16</text>
<ellipse class="o" cx="703" cy="1814" rx="47" ry="48"/><text x="703" y="1820">b.l25x4</text>
<ellipse class="o" cx="866" cy="1814" rx="47" ry="48"/><text x="866" y="1820">b.lhb1x11</text>
<ellipse class="o" cx="1029" cy="1814" rx="47" ry="48"/><text x="1029" y="1820">b.l25x3</text>
<ellipse class="o" cx="1192" cy="1814" rx="47" ry="48"/><text x="1192" y="1820">b.b28x6</text>
<ellipse class="o" cx="1680" cy="1814" rx="47" ry="48"/><text x="1680" y="1820">b.l25x5</text>
<ellipse class="p" cx="2005" cy="1814" rx="47" ry="48"/><text x="2005" y="1820">6x31</text>
<ellipse class="p" cx="2479" cy="1814" rx="47" ry="48"/><text x="2479" y="1820">6x34</text>
<ellipse class="o" cx="4550" cy="1814" rx="47" ry="48"/><text x="4550" y="1820">b.l25x6</text>
<ellipse class="o" cx="4713" cy="1814" rx="47" ry="48"/><text x="4713" y="1820">G.S4.04</text>
<ellipse class="o" cx="4875" cy="1814" rx="47" ry="48"/><text x="4875" y="1820">b.b2x1</text>
<ellipse class="o" cx="5038" cy="1814" rx="47" ry="48"/><text x="5038" y="1820">b.l7x2</text>
<ellipse class="o" cx="5445" cy="1814" rx="47" ry="48"/><text x="5445" y="1820">G.H4.15</text>

<ellipse class="o" cx="1029" cy="1977" rx="47" ry="48"/><text x="1029" y="1983">b.l27x2</text>
<ellipse class="o" cx="4550" cy="1977" rx="47" ry="48"/><text x="4550" y="1983">b.l27x1</text>
<ellipse class="o" cx="4713" cy="1977" rx="47" ry="48"/><text x="4713" y="1983">G.S5.04</text>
</g>
</svg>
</body></html>
